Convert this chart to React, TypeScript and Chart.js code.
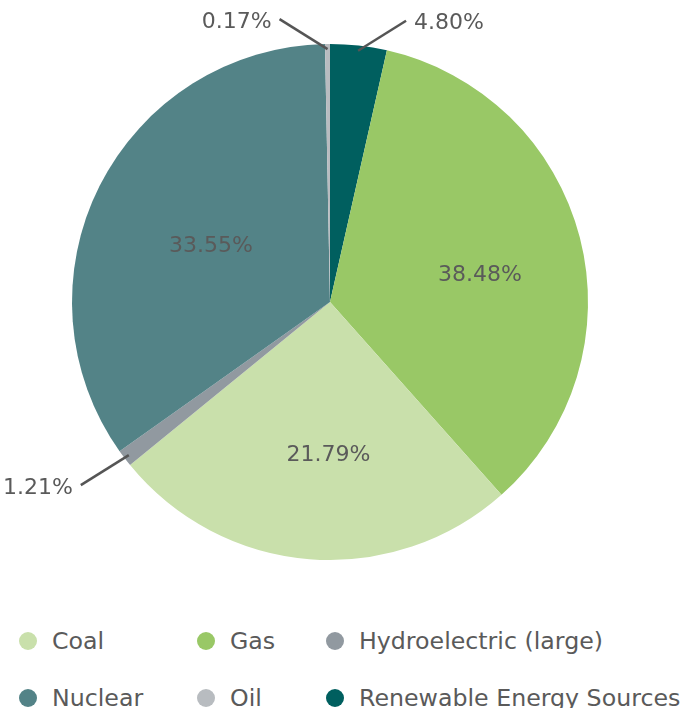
import React, { useEffect, useRef } from "react";
import { Chart, registerables } from "chart.js";

Chart.register(...registerables);

// Slices in drawing order (clockwise from 12 o'clock)
const categories = ["Renewable Energy Sources", "Gas", "Coal", "Hydroelectric (large)", "Nuclear", "Oil"];
// Slice sizes as drawn in the picture (share of the circle, %)
const sliceValues = [3.54, 34.89, 25.68, 1.07, 34.51, 0.31];
// Percent labels printed on the chart
const shownPercent = ["4.80%", "38.48%", "21.79%", "1.21%", "33.55%", "0.17%"];
const outsideLabel = [true, false, false, true, false, true];
const colors = ["#005f5f", "#99c866", "#c9e0ab", "#9199a0", "#538387", "#b8bcc0"];
// Legend order as shown
const legendOrder = ["Coal", "Gas", "Hydroelectric (large)", "Nuclear", "Oil", "Renewable Energy Sources"];

const FONT = '"DejaVu Sans", sans-serif';
const TEXT = "#5a5a5a";

const labelPlugin = {
  id: "sliceLabels",
  afterDatasetsDraw(chart: any) {
    const ctx = chart.ctx;
    const meta = chart.getDatasetMeta(0);
    ctx.save();
    ctx.font = `22px ${FONT}`;
    ctx.fillStyle = TEXT;
    meta.data.forEach((arc: any, i: number) => {
      const p = arc.getProps(["x", "y", "startAngle", "endAngle", "outerRadius"], true);
      const mid = (p.startAngle + p.endAngle) / 2;
      const txt = shownPercent[i];
      if (!outsideLabel[i]) {
        const r = p.outerRadius * 0.56;
        ctx.textAlign = "center";
        ctx.textBaseline = "middle";
        ctx.fillText(txt, p.x + Math.cos(mid) * r + 10, p.y + Math.sin(mid) * r + 9);
      } else {
        const r = p.outerRadius * 0.98;
        const ax = p.x + Math.cos(mid) * r;
        const ay = p.y + Math.sin(mid) * r;
        const sx = Math.cos(mid) < 0 ? -1 : 1;
        const sy = Math.sin(mid) < 0 ? -1 : 1;
        const bx = ax + sx * 48;
        const by = ay + sy * 30;
        ctx.strokeStyle = "#555555";
        ctx.lineWidth = 2.5;
        ctx.beginPath();
        ctx.moveTo(ax, ay);
        ctx.lineTo(bx, by);
        ctx.stroke();
        ctx.textAlign = sx < 0 ? "right" : "left";
        ctx.textBaseline = "middle";
        ctx.fillText(txt, bx + sx * 8, by + 3);
      }
    });
    ctx.restore();
  },
};

export default function App() {
  const ref = useRef<HTMLCanvasElement>(null);
  useEffect(() => {
    if (!ref.current) return;
    const chart = new Chart(ref.current, {
      type: "pie",
      data: {
        labels: categories,
        datasets: [
          {
            data: sliceValues,
            backgroundColor: colors,
            borderWidth: 0,
          },
        ],
      },
      options: {
        animation: false,
        responsive: false,
        layout: { padding: { left: 72, right: 110, top: 44, bottom: 40 } },
        plugins: { legend: { display: false }, tooltip: { enabled: false } },
      },
      plugins: [labelPlugin],
    });
    return () => chart.destroy();
  }, []);

  return (
    <div style={{ position: "absolute", left: 0, top: 0, width: 698, height: 708, background: "#fff", overflow: "hidden" }}>
      <canvas ref={ref} width={698} height={600} style={{ display: "block" }} />
      <div
        style={{
          position: "absolute",
          left: 19,
          top: 622,
          display: "grid",
          gridTemplateColumns: "178px 129px max-content",
          rowGap: 19,
          fontFamily: FONT,
          fontSize: 23.7,
          color: TEXT,
        }}
      >
        {legendOrder.map((name) => (
          <div key={name} style={{ display: "flex", alignItems: "center", height: 38, whiteSpace: "nowrap" }}>
            <span
              style={{
                display: "inline-block",
                flex: "none",
                width: 18,
                height: 18,
                borderRadius: "50%",
                background: colors[categories.indexOf(name)],
                marginRight: 15,
              }}
            />
            <span>{name}</span>
          </div>
        ))}
      </div>
    </div>
  );
}
